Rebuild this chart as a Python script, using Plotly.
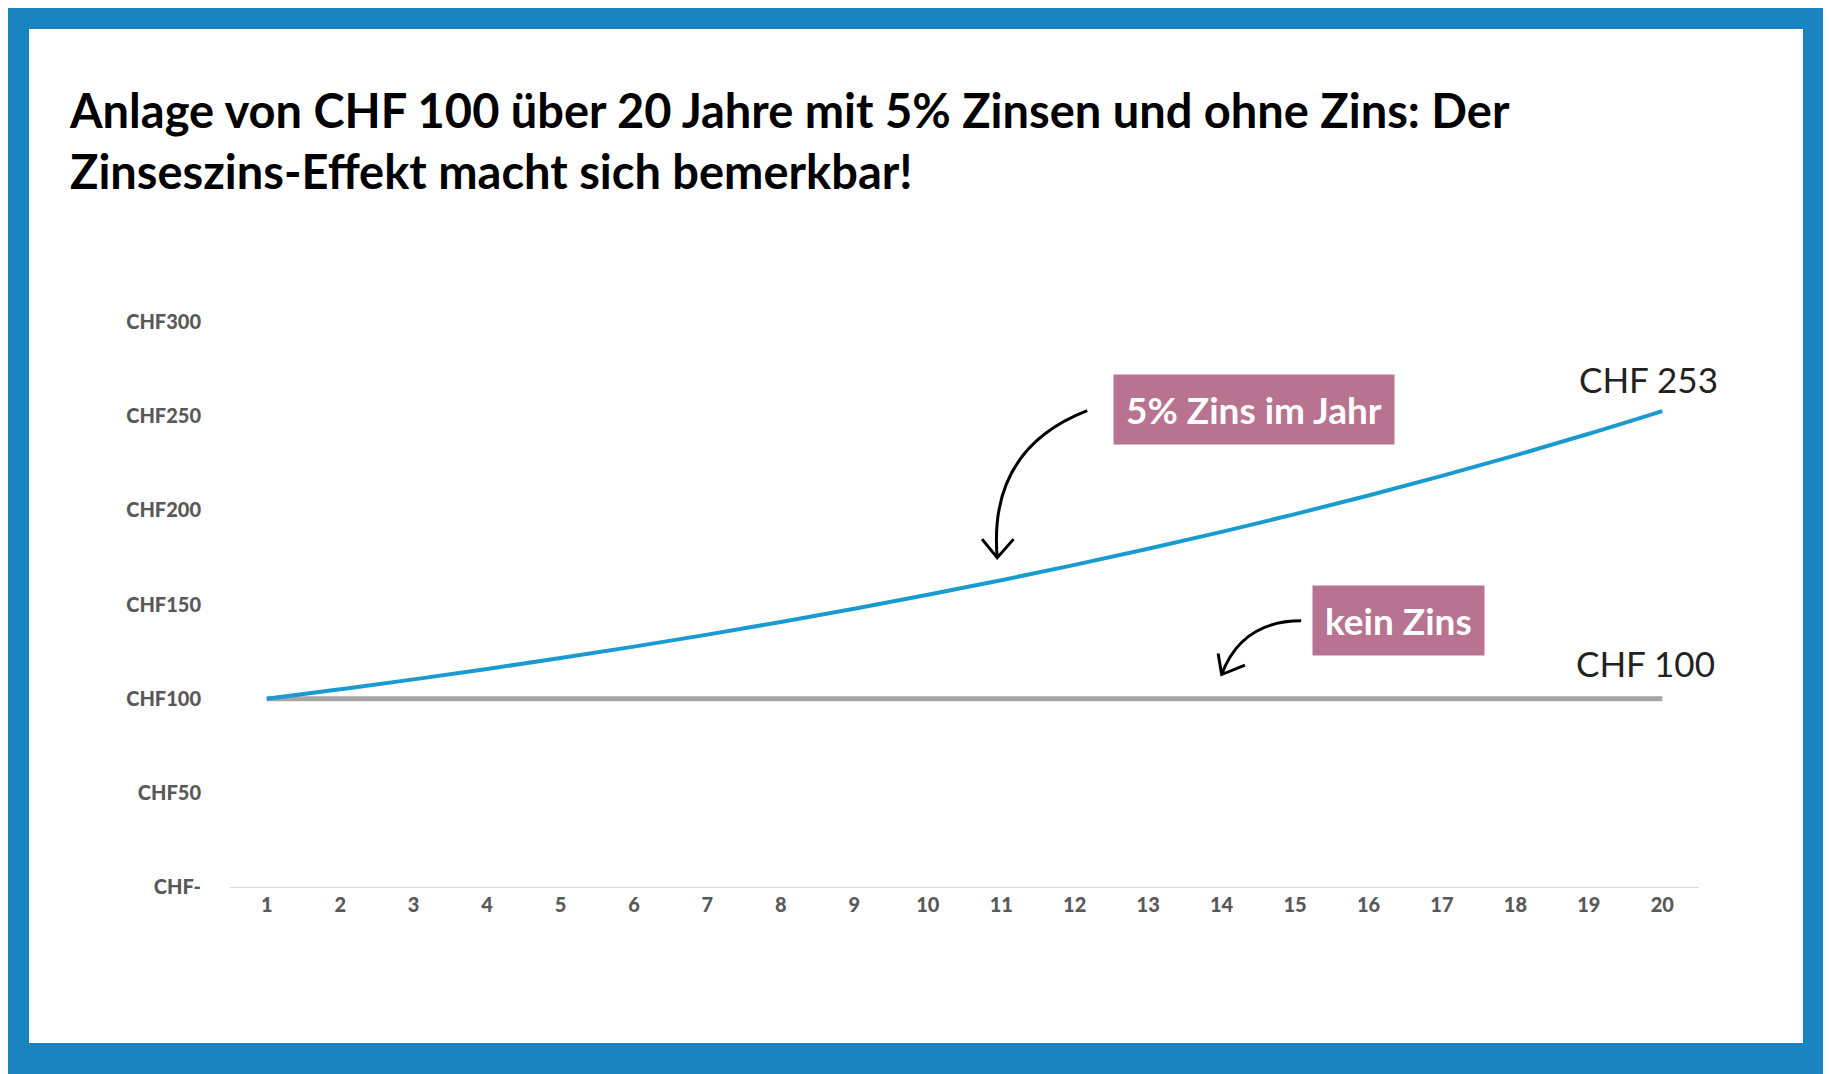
import plotly.graph_objects as go

years = list(range(1, 21))
mit_zins = [100, 105, 110.25, 115.76, 121.55, 127.63, 134.01, 140.71, 147.75, 155.13,
            162.89, 171.03, 179.59, 188.56, 197.99, 207.89, 218.29, 229.20, 240.66, 252.70]
ohne_zins = [100] * 20
y_ticks = [0, 50, 100, 150, 200, 250, 300]
y_labels = ["CHF-", "CHF50", "CHF100", "CHF150", "CHF200", "CHF250", "CHF300"]

BORDER = "#1a84c0"
PINK = "#b87390"
TICK = "#595959"


# helpers: reference-image pixel (1568 wide) -> data coords, for decoration only
def dx(px):
    return (px - 228) / 62.842 + 1


def dy(py):
    return (760 - py) / 1.6133


fig = go.Figure()
fig.add_trace(go.Scatter(x=years, y=ohne_zins, mode="lines",
                         line=dict(color="#a6a6a6", width=5), hoverinfo="skip"))
fig.add_trace(go.Scatter(x=years, y=mit_zins, mode="lines",
                         line=dict(color="#1a9bd0", width=4, shape="spline"), hoverinfo="skip"))

# white card on blue background
fig.add_shape(type="rect", xref="paper", yref="paper", layer="below",
              x0=-0.1368, x1=1.0708, y0=-0.2761, y1=1.5186,
              fillcolor="white", line_width=0)

# curved arrows
a1 = f"M {dx(930)},{dy(352)} Q {dx(845)},{dy(385)} {dx(853)},{dy(478)}"
h1 = f"M {dx(840)},{dy(462)} L {dx(853)},{dy(478)} L {dx(867)},{dy(462)}"
a2 = f"M {dx(1113)},{dy(532)} Q {dx(1062)},{dy(532)} {dx(1045)},{dy(578)}"
h2 = f"M {dx(1042)},{dy(560)} L {dx(1045)},{dy(578)} L {dx(1065)},{dy(570)}"
for p in (a1, h1, a2, h2):
    fig.add_shape(type="path", path=p, xref="x", yref="y",
                  line=dict(color="black", width=3))

fig.add_annotation(x=dx(1073), y=dy(351), text="<b>5% Zins im Jahr</b>", showarrow=False,
                   bgcolor=PINK, borderpad=12, font=dict(color="white", size=37, family="Lato"))
fig.add_annotation(x=dx(1196), y=dy(532), text="<b>kein Zins</b>", showarrow=False,
                   bgcolor=PINK, borderpad=12, font=dict(color="white", size=37, family="Lato"))
fig.add_annotation(x=dx(1410), y=dy(325), text="CHF 253", showarrow=False,
                   font=dict(color="#222", size=35, family="Lato"))
fig.add_annotation(x=dx(1408), y=dy(568), text="CHF 100", showarrow=False,
                   font=dict(color="#222", size=35, family="Lato"))

fig.add_annotation(xref="paper", yref="paper", x=(67 - 230) / 1469, y=(887 - 80) / 565,
                   xanchor="left", yanchor="top", align="left", showarrow=False,
                   text="<b>Anlage von CHF 100 über 20 Jahre mit 5% Zinsen und ohne Zins: Der<br>"
                        "Zinseszins-Effekt macht sich bemerkbar!</b>",
                   font=dict(color="black", size=47, family="Lato"))

# page body has an 8px margin, so shift the figure up/left by 8px
fig.update_layout(
    width=1831, height=1074,
    paper_bgcolor=BORDER, plot_bgcolor="white",
    margin=dict(l=222, r=140, t=314, b=195),
    showlegend=False,
    font=dict(family="Lato"),
    xaxis=dict(range=[0.5, 20.5], tickvals=years, showgrid=False, zeroline=False,
               showline=True, linecolor="#d9d9d9", linewidth=1, ticks="",
               tickfont=dict(size=20, color=TICK, family="Lato Black")),
    yaxis=dict(range=[0, 300], tickvals=y_ticks, ticktext=y_labels, showgrid=False,
               zeroline=False, showline=False, ticks="", ticklabelstandoff=28,
               tickfont=dict(size=20, color=TICK, family="Lato Black")),
)
fig.write_html("out.html")
